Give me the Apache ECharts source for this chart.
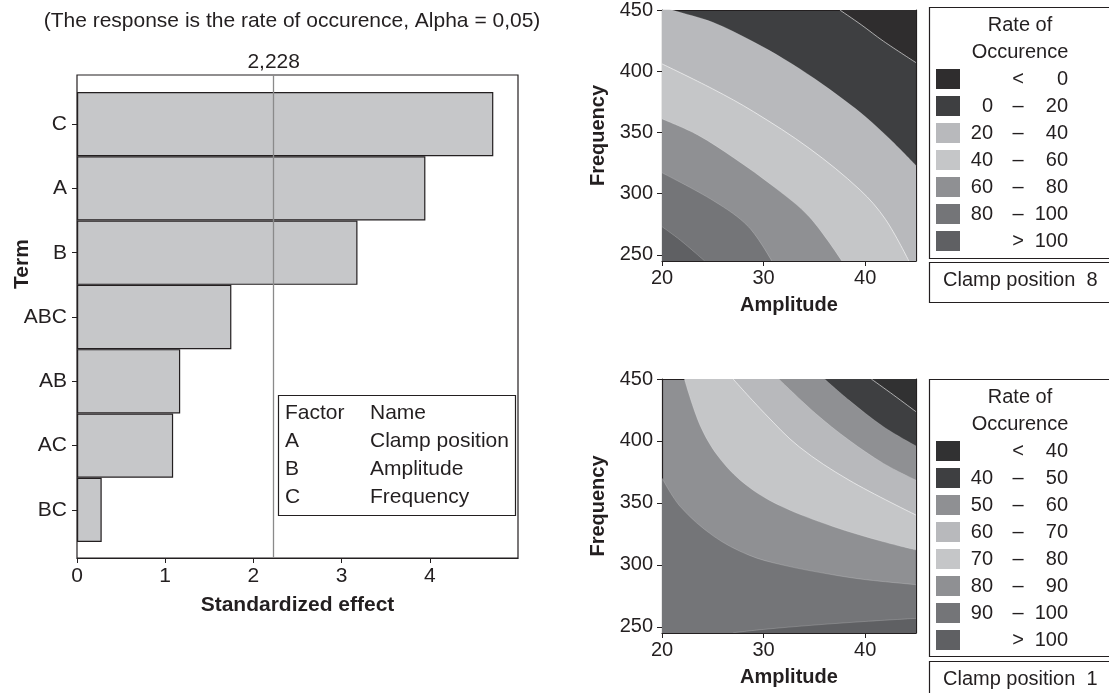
<!DOCTYPE html>
<html><head><meta charset="utf-8">
<script src="https://cdn.jsdelivr.net/npm/echarts@6/dist/echarts.min.js"></script>
<style>html,body{margin:0;padding:0;background:#fff}#c{width:1109px;height:693px}</style>
</head><body><div id="c"></div>
<script>
const FONT = '"Liberation Sans", Arial, Helvetica, sans-serif';
const TXT = '#231f20';

// ---------- Pareto chart data ----------
const titleText = '(The response is the rate of occurence, Alpha = 0,05)';
const terms = ['C', 'A', 'B', 'ABC', 'AB', 'AC', 'BC'];
const effects = [4.72, 3.95, 3.18, 1.75, 1.17, 1.09, 0.28];
const criticalValue = 2.228;
const criticalLabel = '2,228';
const effectTicks = [0, 1, 2, 3, 4];
const factorCodes = ['Factor', 'A', 'B', 'C'];
const factorNames = ['Name', 'Clamp position', 'Amplitude', 'Frequency'];

// ---------- Contour plots data ----------
const ampTicks = [20, 30, 40];
const freqTicks = [250, 300, 350, 400, 450];

// Clamp position 8: legend classes and colours
const legend8 = [['', '<', '0'], ['0', '–', '20'], ['20', '–', '40'], ['40', '–', '60'], ['60', '–', '80'], ['80', '–', '100'], ['', '>', '100']];
const colors8 = ['#2f2d2e', '#3e3f41', '#b8b9bc', '#c5c6c8', '#8f9093', '#747578', '#5f6063'];
// contour boundaries [amplitude, frequency]
const c8_0 = [[37.5, 450], [39.6, 438], [41.8, 424.5], [45, 407]];
const c8_20 = [[20, 453], [21, 450], [25, 440], [29, 424], [32, 410], [35, 394], [38, 376], [40, 363], [42.5, 344], [45, 323]];
const c8_40 = [[20, 406], [25, 385.5], [29, 367], [34.5, 337], [39.5, 303], [42, 279], [44.3, 245]];
const c8_60 = [[20, 361], [23.5, 348], [27.1, 329], [31.1, 305], [34.5, 281], [37.7, 245]];
const c8_80 = [[20, 317], [25.1, 294], [28.5, 273], [30.8, 245]];
const c8_100 = [[20, 273], [21.8, 262], [24.2, 245]];

// Clamp position 1
const legend1 = [['', '<', '40'], ['40', '–', '50'], ['50', '–', '60'], ['60', '–', '70'], ['70', '–', '80'], ['80', '–', '90'], ['90', '–', '100'], ['', '>', '100']];
const colors1 = ['#313132', '#3e3f41', '#8f9093', '#b8b9bc', '#c5c6c8', '#8f9093', '#747578', '#5f6063'];
const c1_40 = [[40.6, 450], [42.8, 437], [45, 423.6]];
const c1_50 = [[36, 450], [38.4, 433], [41.8, 411.5], [45, 396]];
const c1_60 = [[31.5, 450], [35.1, 422.3], [38.4, 400.7], [41.8, 381.9], [45, 368.4]];
const c1_70 = [[27, 450], [30.1, 422.3], [33.5, 395.3], [38.4, 368.4], [45, 340.2]];
const c1_80 = [[22.2, 450], [23.8, 411.5], [25.8, 384.6], [28.5, 363], [31.8, 347], [36.8, 331], [41.8, 318.6], [45, 312]];
const c1_90 = [[20, 370], [21.8, 347], [25.1, 323], [28.5, 308], [31.8, 300], [36.8, 292], [40.1, 288], [45, 284]];
const c1_100 = [[27, 245.2], [30, 247.9], [35, 251.4], [40, 254.3], [45, 256.8]];

// ---------- layout ----------
const P = { left: 77, top: 75, width: 441, height: 483, barTop: 92, barHeight: 450 };
const C8 = { left: 662, top: 7, width: 254, height: 254 };
const C1 = { left: 662, top: 379, width: 254, height: 254 };

const chart = echarts.init(document.getElementById('c'), null, { renderer: 'canvas' });

function contourAxes(g) {
  const xs = [
    { gridIndex: g, type: 'value', min: 20, max: 45, position: 'bottom',
      axisLine: { show: true, onZero: false, lineStyle: { color: TXT, width: 1.2 } },
      axisTick: { show: true, customValues: ampTicks, length: 5, lineStyle: { color: TXT } },
      axisLabel: { customValues: ampTicks, fontSize: 20, fontFamily: FONT, color: TXT, margin: 7 },
      splitLine: { show: false },
      name: 'Amplitude', nameLocation: 'middle', nameGap: 34,
      nameTextStyle: { fontSize: 20, fontWeight: 'bold', fontFamily: FONT, color: TXT } },
    { gridIndex: g, type: 'value', min: 20, max: 45, position: 'top',
      axisLine: { show: true, onZero: false, lineStyle: { color: TXT, width: 1.2 } },
      axisTick: { show: false }, axisLabel: { show: false }, splitLine: { show: false } }
  ];
  const ys = [
    { gridIndex: g, type: 'value', min: 245, max: 450, position: 'left',
      axisLine: { show: true, onZero: false, lineStyle: { color: TXT, width: 1.2 } },
      axisTick: { show: true, customValues: freqTicks, length: 5, lineStyle: { color: TXT } },
      axisLabel: { customValues: freqTicks, fontSize: 20, fontFamily: FONT, color: TXT, margin: 9 },
      splitLine: { show: false },
      name: 'Frequency', nameLocation: 'middle', nameGap: 54,
      nameTextStyle: { fontSize: 20, fontWeight: 'bold', fontFamily: FONT, color: TXT } },
    { gridIndex: g, type: 'value', min: 245, max: 450, position: 'right',
      axisLine: { show: true, onZero: false, lineStyle: { color: TXT, width: 1.2 } },
      axisTick: { show: false }, axisLabel: { show: false }, splitLine: { show: false } }
  ];
  return { xs, ys };
}

function band(data, color, origin, xIdx, yIdx, strong) {
  return {
    type: 'line', xAxisIndex: xIdx, yAxisIndex: yIdx, data: data,
    smooth: 0.35, symbol: 'none', silent: true, clip: true,
    lineStyle: { color: strong ? 'rgba(255,255,255,0.75)' : 'rgba(255,255,255,0.3)', width: strong ? 0.8 : 0.6 },
    areaStyle: { color: color, opacity: 1, origin: origin },
    emphasis: { disabled: true }, animation: false
  };
}

function legendGraphics(top, rows, colors, clampText, boxH, clampTop) {
  const els = [];
  els.push({ type: 'rect', shape: { x: 929.5, y: top + 0.5, width: 200, height: boxH }, style: { fill: 'none', stroke: TXT, lineWidth: 1.2 }, z: 100 });
  els.push({ type: 'rect', shape: { x: 929.5, y: clampTop + 0.5, width: 200, height: 40 }, style: { fill: 'none', stroke: TXT, lineWidth: 1.2 }, z: 100 });
  els.push({ type: 'text', x: 1020, y: top + 18, style: { text: 'Rate of', font: '20px ' + FONT, fill: TXT, align: 'center', verticalAlign: 'middle' }, z: 100 });
  els.push({ type: 'text', x: 1020, y: top + 45, style: { text: 'Occurence', font: '20px ' + FONT, fill: TXT, align: 'center', verticalAlign: 'middle' }, z: 100 });
  rows.forEach((r, i) => {
    const y0 = top + 62 + 27 * i;
    els.push({ type: 'rect', shape: { x: 936, y: y0, width: 24, height: 20 }, style: { fill: colors[i] }, z: 100 });
    const cy = y0 + 10;
    if (r[0]) els.push({ type: 'text', x: 993, y: cy, style: { text: r[0], font: '20px ' + FONT, fill: TXT, align: 'right', verticalAlign: 'middle' }, z: 100 });
    els.push({ type: 'text', x: 1018, y: cy, style: { text: r[1], font: '20px ' + FONT, fill: TXT, align: 'center', verticalAlign: 'middle' }, z: 100 });
    els.push({ type: 'text', x: 1068, y: cy, style: { text: r[2], font: '20px ' + FONT, fill: TXT, align: 'right', verticalAlign: 'middle' }, z: 100 });
  });
  els.push({ type: 'text', x: 943, y: clampTop + 18, style: { text: clampText, font: '20px ' + FONT, fill: TXT, align: 'left', verticalAlign: 'middle' }, z: 100 });
  return els;
}

const a8 = contourAxes(2);
const a1 = contourAxes(3);

const graphics = [
  { type: 'text', x: 292, y: 21, style: { text: titleText, font: '21px ' + FONT, fill: TXT, align: 'center', verticalAlign: 'middle' } },
  { type: 'text', x: 22, y: 264, rotation: Math.PI / 2, style: { text: 'Term', font: 'bold 21px ' + FONT, fill: TXT, align: 'center', verticalAlign: 'middle' } },
  { type: 'rect', shape: { x: 278.5, y: 395.5, width: 237, height: 120 }, style: { fill: '#fff', stroke: TXT, lineWidth: 1.2 }, z: 50 }
];
factorCodes.forEach((t, i) => {
  graphics.push({ type: 'text', x: 285, y: 413 + 28 * i, style: { text: t, font: '21px ' + FONT, fill: TXT, align: 'left', verticalAlign: 'middle' }, z: 51 });
  graphics.push({ type: 'text', x: 370, y: 413 + 28 * i, style: { text: factorNames[i], font: '21px ' + FONT, fill: TXT, align: 'left', verticalAlign: 'middle' }, z: 51 });
});
legendGraphics(7, legend8, colors8, 'Clamp position  8', 251, 262).forEach(e => graphics.push(e));
legendGraphics(379, legend1, colors1, 'Clamp position  1', 277, 661).forEach(e => graphics.push(e));

const option = {
  animation: false,
  backgroundColor: '#fff',
  textStyle: { fontFamily: FONT },
  grid: [
    { left: P.left, top: P.top, width: P.width, height: P.height, show: true, borderColor: TXT, borderWidth: 1.2, backgroundColor: 'transparent' },
    { left: P.left, top: P.barTop, width: P.width, height: P.barHeight },
    { left: C8.left, top: C8.top, width: C8.width, height: C8.height, show: true, backgroundColor: colors8[1], borderWidth: 0 },
    { left: C1.left, top: C1.top, width: C1.width, height: C1.height, show: true, backgroundColor: colors1[5], borderWidth: 0 }
  ],
  xAxis: [
    { gridIndex: 0, type: 'value', min: 0, max: 5,
      axisLine: { show: true, lineStyle: { color: TXT, width: 1.2 } },
      axisTick: { show: true, customValues: effectTicks, length: 5, lineStyle: { color: TXT } },
      axisLabel: { customValues: effectTicks, fontSize: 21, fontFamily: FONT, color: TXT, margin: 8 },
      splitLine: { show: false },
      name: 'Standardized effect', nameLocation: 'middle', nameGap: 37,
      nameTextStyle: { fontSize: 21, fontWeight: 'bold', fontFamily: FONT, color: TXT } },
    { gridIndex: 1, type: 'value', min: 0, max: 5, show: false },
    a8.xs[0], a8.xs[1], a1.xs[0], a1.xs[1]
  ],
  yAxis: [
    { gridIndex: 0, type: 'value', min: 0, max: 1, show: false },
    { gridIndex: 1, type: 'category', data: terms, inverse: true,
      axisLine: { show: false },
      axisTick: { show: true, alignWithLabel: true, length: 5, lineStyle: { color: TXT } },
      axisLabel: { fontSize: 21, fontFamily: FONT, color: TXT, margin: 10 } },
    a8.ys[0], a8.ys[1], a1.ys[0], a1.ys[1]
  ],
  series: [
    { type: 'bar', xAxisIndex: 1, yAxisIndex: 1, data: effects, barCategoryGap: '0%',
      itemStyle: { color: '#c6c7c9', borderColor: TXT, borderWidth: 1.2 }, silent: true, z: 3 },
    { type: 'line', xAxisIndex: 0, yAxisIndex: 0, data: [], silent: true,
      markLine: { symbol: 'none', silent: true, animation: false,
        lineStyle: { color: '#8a8a8a', width: 1.3, type: 'solid' },
        label: { show: true, position: 'end', formatter: criticalLabel, fontSize: 21, fontFamily: FONT, color: TXT, distance: 2 },
        data: [{ xAxis: criticalValue }] } },
    // Clamp position 8 (axes 2 / 2)
    band(c8_20, colors8[2], 'start', 2, 2, false),
    band(c8_40, colors8[3], 'start', 2, 2, true),
    band(c8_60, colors8[4], 'start', 2, 2, false),
    band(c8_80, colors8[5], 'start', 2, 2, false),
    band(c8_100, colors8[6], 'start', 2, 2, false),
    band(c8_0, colors8[0], 'end', 2, 2, true),
    // Clamp position 1 (axes 4 / 4)
    band(c1_80, colors1[4], 'end', 4, 4, false),
    band(c1_70, colors1[3], 'end', 4, 4, true),
    band(c1_60, colors1[2], 'end', 4, 4, false),
    band(c1_50, colors1[1], 'end', 4, 4, false),
    band(c1_40, colors1[0], 'end', 4, 4, true),
    band(c1_90, colors1[6], 'start', 4, 4, false),
    band(c1_100, colors1[7], 'start', 4, 4, false)
  ],
  graphic: graphics
};
chart.setOption(option);
</script></body></html>
